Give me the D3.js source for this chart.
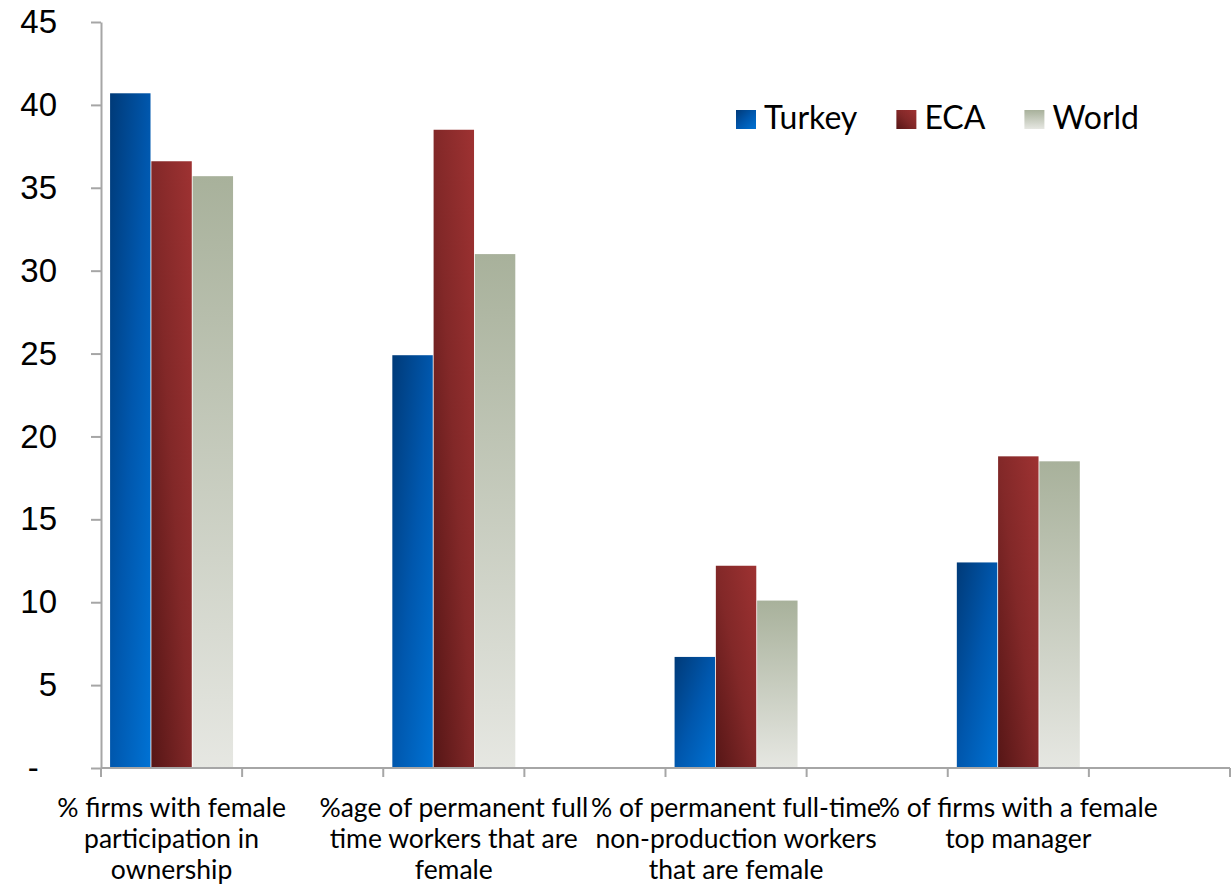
<!DOCTYPE html>
<html>
<head>
<meta charset="utf-8">
<script src="https://cdn.jsdelivr.net/npm/d3@7"></script>
<style>
  html, body { margin: 0; padding: 0; background: #fff; }
  svg { display: block; }
</style>
</head>
<body>
<svg id="chart" width="1231" height="887"></svg>
<script>
// Female participation indicators (%), Turkey vs. regional and world averages
const categories = [
  "% firms with female participation in ownership",
  "%age of permanent full time workers that are female",
  "% of permanent full-time non-production workers that are female",
  "% of firms with a female top manager"
];
const series = ["Turkey", "ECA", "World"];
const turkey = [40.7, 24.9, 6.7, 12.4];
const eca    = [36.6, 38.5, 12.2, 18.8];
const world  = [35.7, 31.0, 10.1, 18.5];
const yTicks = [0, 5, 10, 15, 20, 25, 30, 35, 40, 45];

const valuesBySeries = { Turkey: turkey, ECA: eca, World: world };

const svg = d3.select("#chart");
const margin = { left: 101, right: 1, top: 22, bottom: 119 };
const W = 1231, H = 887;
const plotBottom = H - margin.bottom;   // 768
const plotRight = W - margin.right;     // 1230

const axisColor = "#a6a6a6";
const labelFont = "Lato, 'Open Sans', sans-serif";
const numFont = "'Liberation Sans', Arial, sans-serif";

// Gradients
const defs = svg.append("defs");
function linGrad(id, x1, y1, x2, y2, stops) {
  const g = defs.append("linearGradient").attr("id", id)
    .attr("x1", x1).attr("y1", y1).attr("x2", x2).attr("y2", y2);
  stops.forEach(([o, c]) => g.append("stop").attr("offset", o).attr("stop-color", c));
}
linGrad("g-Turkey", 0, 0, 1, 1, [[0, "#003a78"], [0.5, "#0057ad"], [1, "#0072d4"]]);
linGrad("g-ECA", 0, 1, 1, 0, [[0, "#561616"], [0.5, "#822828"], [1, "#9e3232"]]);
linGrad("g-World", 0, 0, 0, 1, [[0, "#a8b19b"], [1, "#e6e7e2"]]);

// Scales
const y = d3.scaleLinear().domain([0, 45]).range([plotBottom, margin.top]);
const x = d3.scaleBand().domain(categories).range([margin.left, plotRight]).padding(0);
const half = x.bandwidth() / 2;
const xs = d3.scaleBand().domain(series).range([0, half]).paddingOuter(0.22).paddingInner(0.02);

// Bars
const groups = svg.append("g").selectAll("g")
  .data(categories).join("g")
  .attr("transform", c => `translate(${x(c)},0)`);

groups.selectAll("rect")
  .data((c, i) => series.map(s => ({ s, v: valuesBySeries[s][i] })))
  .join("rect")
  .attr("x", d => xs(d.s))
  .attr("width", xs.bandwidth())
  .attr("y", d => y(d.v))
  .attr("height", d => plotBottom - y(d.v))
  .attr("fill", d => `url(#g-${d.s})`);

// Y axis
const yAxis = d3.axisLeft(y)
  .tickValues(yTicks)
  .tickSize(10)
  .tickSizeOuter(0)
  .tickPadding(34)
  .tickFormat(d => d === 0 ? "-\u2007" : d);
const gy = svg.append("g").attr("transform", `translate(${margin.left},0)`).call(yAxis);
gy.select(".domain").attr("stroke", axisColor).attr("stroke-width", 2);
gy.selectAll(".tick line").attr("stroke", axisColor).attr("stroke-width", 2);
gy.selectAll(".tick text")
  .attr("fill", "#000")
  .style("font-family", numFont)
  .style("font-size", "33px");

// X axis line and tick marks at each half-category boundary
const tickPos = [];
categories.forEach(c => { tickPos.push(x(c)); tickPos.push(x(c) + half); });
tickPos.push(plotRight);
const gx = svg.append("g");
gx.append("line")
  .attr("x1", margin.left).attr("x2", plotRight)
  .attr("y1", plotBottom).attr("y2", plotBottom)
  .attr("stroke", axisColor).attr("stroke-width", 2);
gx.selectAll("line.tick").data(tickPos).join("line")
  .attr("class", "tick")
  .attr("x1", d => d).attr("x2", d => d)
  .attr("y1", plotBottom).attr("y2", plotBottom + 9)
  .attr("stroke", axisColor).attr("stroke-width", 2);

// Category labels, word-wrapped and centred under each bar group
const wrapWidth = 292;
const labels = gx.selectAll("text.cat").data(categories).join("text")
  .attr("class", "cat")
  .attr("text-anchor", "middle")
  .attr("fill", "#000")
  .style("font-family", labelFont)
  .style("font-size", "26.5px");

labels.each(function (c) {
  const t = d3.select(this);
  const cx = x(c) + half / 2;
  const words = c.split(" ");
  const lines = [];
  let line = [];
  const probe = t.append("tspan");
  words.forEach(w => {
    line.push(w);
    probe.text(line.join(" "));
    if (probe.node().getComputedTextLength() > wrapWidth && line.length > 1) {
      line.pop();
      lines.push(line.join(" "));
      line = [w];
    }
  });
  lines.push(line.join(" "));
  probe.remove();
  lines.forEach((l, i) => {
    t.append("tspan").attr("x", cx).attr("y", 817 + i * 31).text(l);
  });
});

// Legend
const legend = svg.append("g").attr("transform", "translate(736,110)");
let lx = 0;
series.forEach(s => {
  const item = legend.append("g").attr("transform", `translate(${lx},0)`);
  item.append("rect").attr("width", 20).attr("height", 19).attr("fill", `url(#g-${s})`);
  const txt = item.append("text")
    .attr("x", 28).attr("y", 19)
    .attr("fill", "#000")
    .style("font-family", labelFont)
    .style("font-size", "32px")
    .text(s);
  lx += 28 + txt.node().getComputedTextLength() + 39;
});
</script>
</body>
</html>
